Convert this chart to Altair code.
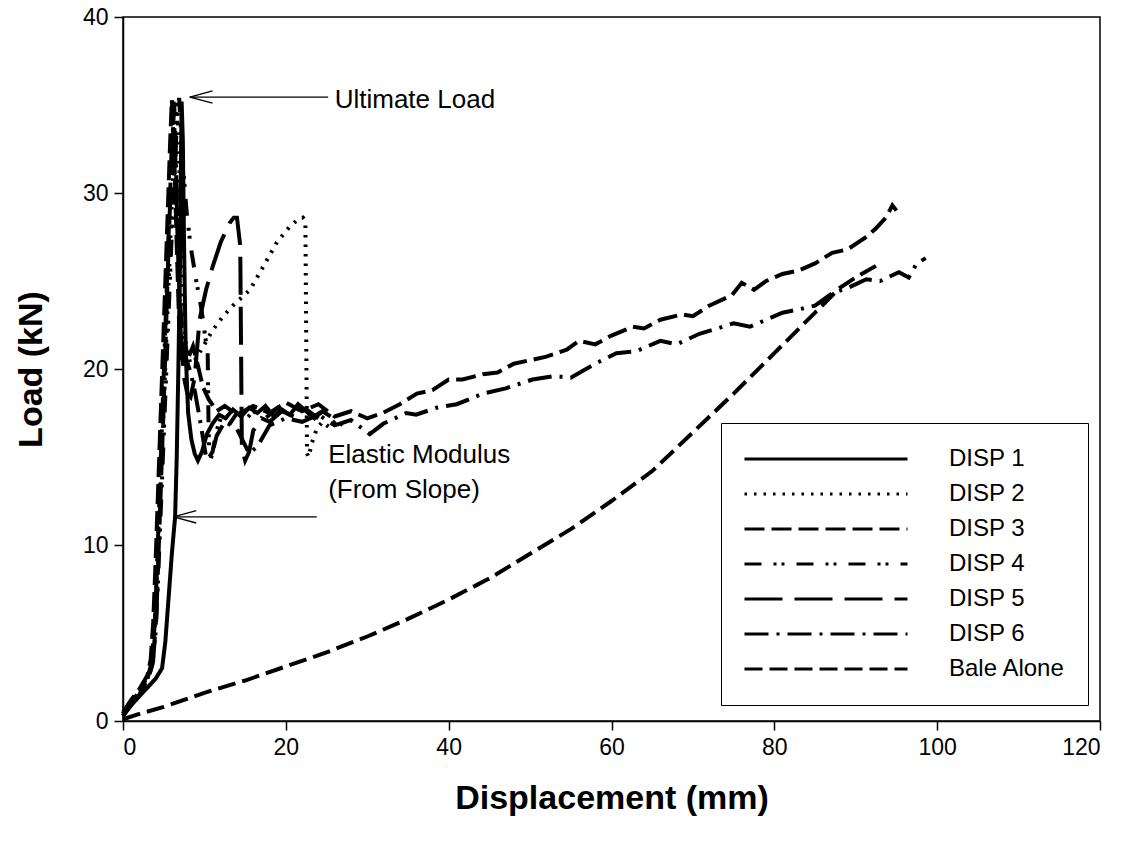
import altair as alt
import pandas as pd

# ---------------- data ----------------
series_names = ["DISP 1", "DISP 2", "DISP 3", "DISP 4", "DISP 5", "DISP 6", "Bale Alone"]

disp1_x = [0, 1, 2, 3, 4, 4.8, 5.2, 5.6, 6.0, 6.4, 6.6, 6.8, 7.0, 7.1, 7.2, 7.35, 7.5, 7.7, 8.0, 8.4,
           8.8, 9.2, 9.7, 10.3, 11.0, 11.8, 12.6, 13.5, 14.5, 15.5, 16.5, 17.5, 18.5, 19.5, 20.5, 21.5,
           22.5, 23.5, 24.5, 25.5]
disp1_y = [0.3, 0.9, 1.4, 1.9, 2.4, 3.0, 4.5, 7.0, 9.5, 11.6, 15, 20, 26, 31, 35.2, 33, 27, 21, 17.5, 16,
           15.2, 14.8, 15.3, 16.3, 16.9, 17.4, 17.2, 17.7, 17.3, 17.8, 17.5, 17.9, 17.3, 17.7, 17.4, 18.0,
           17.6, 17.2, 17.6, 17.3]

disp2_x = [0, 1, 2, 3, 3.5, 3.9, 4.2, 4.5, 4.8, 5.1, 5.4, 5.7, 6.0, 6.3, 6.6, 6.8, 7.1, 7.4, 7.8, 8.3,
           9.0, 10.0, 11.0, 12.3, 13.5, 15.6, 17.2, 18.9, 20.5, 21.5, 22.1, 22.4, 22.5, 22.6, 22.8, 23.2,
           23.8, 24.5, 25.3, 26.2, 27.0]
disp2_y = [0.4, 1.1, 1.7, 2.5, 3.3, 5.5, 8.5, 12, 15.5, 19, 22.5, 26, 29.5, 32.5, 35.3, 33.5, 28, 23.5, 21, 20.3,
           20.6, 21.4, 22.2, 23.0, 23.6, 24.5, 25.8, 27.2, 28.1, 28.5, 28.6, 28.4, 22, 15.2, 15.0, 15.8,
           16.6, 17.0, 16.7, 17.1, 16.8]

disp3_x = [0, 1, 2, 3, 3.4, 3.7, 4.0, 4.3, 4.6, 4.9, 5.2, 5.5, 5.8, 6.0, 6.3, 6.6, 6.9, 7.2, 7.6, 8.0,
           8.6, 9.2, 9.8, 10.5, 11.5, 12.5, 14, 16, 18, 20, 22, 24, 26, 28, 30, 31.9, 34, 36.1, 38, 40,
           41.7, 44.2, 46, 48, 50, 52, 54.5, 56, 58, 60, 62.6, 64, 66, 68.7, 70, 72, 74.8, 76, 77.5, 79,
           81, 83, 85, 87.1, 89, 91.3, 92.5, 93.7, 94.5, 95]
disp3_y = [0.5, 1.2, 1.8, 2.6, 3.5, 5.5, 9, 13, 17, 21, 25, 29, 33, 35.3, 32, 27, 22.5, 20.5, 21.5, 20.6,
           21.3, 20.2, 19.0, 18.3, 17.6, 17.9, 17.4, 17.9, 17.5, 18.1, 17.6, 18.0, 17.3, 17.6, 17.2, 17.5,
           18.0, 18.6, 18.8, 19.4, 19.4, 19.7, 19.8, 20.3, 20.5, 20.7, 21.1, 21.6, 21.4, 21.9, 22.4, 22.3,
           22.8, 23.1, 23.0, 23.6, 24.2, 24.9, 24.5, 25.0, 25.4, 25.6, 26.0, 26.6, 26.8, 27.5, 28.0, 28.6,
           29.3, 29.0]

disp4_x = [0, 1, 2, 3, 3.6, 4.0, 4.3, 4.6, 4.9, 5.2, 5.5, 5.8, 6.1, 6.4, 6.7, 6.9, 7.3, 7.8, 8.3, 9.0,
           9.6, 10.2, 10.4, 10.5, 10.6, 11.0, 11.5, 12, 13, 14, 15, 16, 17.5, 19, 20.5, 22, 23.5, 24.5]
disp4_y = [0.3, 1.0, 1.6, 2.3, 3.2, 5, 8, 11.5, 15, 18.5, 22, 25.5, 29, 32, 34.6, 35.4, 32, 29, 27, 25,
           23.5, 21.5, 21, 17, 15, 15.3, 16.5, 17.2, 16.8, 17.5, 17.1, 17.6, 17.2, 17.8, 17.4, 17.9, 17.3, 17.6]

disp5_x = [0, 1, 2, 3, 3.7, 4.1, 4.4, 4.7, 5.0, 5.3, 5.6, 5.9, 6.2, 6.5, 6.8, 7.1, 7.5, 7.9, 8.3, 8.8,
           9.4, 10.2, 11, 12, 13.1, 13.6, 14.0, 14.4, 14.6, 15.0, 15.5, 16, 17, 18, 19.5, 21, 22.5, 24]
disp5_y = [0.3, 0.9, 1.5, 2.2, 3.4, 6, 10, 14, 18, 22.5, 27, 31, 35.2, 31, 26, 22, 19.5, 18.6, 18.4, 19.5,
           22.8, 24.5, 25.8, 27.2, 28.3, 28.6, 28.6, 27, 15.5, 14.8, 15.3, 16.5, 17.2, 17.0, 17.6, 17.3, 17.7, 17.2]

disp6_x = [0, 1, 2, 3, 3.5, 3.9, 4.2, 4.5, 4.8, 5.1, 5.4, 5.7, 6.0, 6.3, 6.6, 6.9, 7.3, 7.8, 8.3, 8.8,
           9.5, 10.2, 10.8, 11.5, 12.5, 14, 15.5, 16.5, 18, 20, 22, 24, 26, 28, 30.3, 32, 34.8, 36, 38.5,
           41, 44.2, 47, 50.3, 53, 55, 58, 60.6, 63, 66, 68, 70.8, 73, 75, 77, 79, 81, 83.1, 85, 87.1, 89,
           91.3, 93, 95.3, 96.5, 97.5, 98.6]
disp6_y = [0.4, 1.0, 1.7, 2.4, 3.3, 5.5, 9, 13, 17, 21, 25, 29, 32.5, 35.0, 30, 25, 21.5, 20.5, 19.8, 18.8,
           17.0, 15.0, 14.9, 16.2, 17.0, 16.6, 15.2, 15.6, 16.8, 17.2, 17.0, 17.4, 16.8, 17.1, 16.3, 16.9,
           17.5, 17.4, 17.8, 18.0, 18.6, 18.9, 19.4, 19.6, 19.5, 20.3, 20.9, 21.0, 21.6, 21.4, 22.0, 22.3,
           22.6, 22.4, 22.8, 23.2, 23.4, 23.6, 24.3, 24.6, 25.1, 25.0, 25.5, 25.2, 26.0, 26.3]

bale_x = [0, 2, 5, 10, 15, 20, 25, 30, 35, 40, 45, 50, 55, 60, 65, 70, 75, 80, 85, 88, 90, 93]
bale_y = [0.1, 0.4, 0.8, 1.6, 2.3, 3.1, 3.9, 4.8, 5.8, 6.9, 8.1, 9.5, 10.9, 12.5, 14.2, 16.4, 18.6, 20.9,
          23.2, 24.6, 25.2, 26.0]

dash_patterns = [[1, 0], [2.5, 7], [20, 7], [17, 12, 3, 5, 3, 12], [38, 12], [24, 8, 3, 8], [18, 7]]

x_ticks = [0, 20, 40, 60, 80, 100, 120]
y_ticks = [0, 10, 20, 30, 40]

# annotation arrows (shaft + open head) and labels
arrow_x = [8.2, 8.2, 8.2, 6.2, 6.2, 6.2]
arrow_y = [35.45, 35.45, 35.45, 11.6, 11.6, 11.6]
arrow_x2 = [25.2, 11.0, 11.0, 23.8, 9.0, 9.0]
arrow_y2 = [35.45, 35.8, 35.1, 11.6, 11.95, 11.25]

note_text = ["Ultimate Load", "Elastic Modulus", "(From Slope)"]
note_x = [26.0, 25.2, 25.2]
note_y = [35.3, 15.1, 13.1]

# ---------------- build tables ----------------
all_x = [disp1_x, disp2_x, disp3_x, disp4_x, disp5_x, disp6_x, bale_x]
all_y = [disp1_y, disp2_y, disp3_y, disp4_y, disp5_y, disp6_y, bale_y]
rows = []
for name, xs, ys in zip(series_names, all_x, all_y):
    for i, (xv, yv) in enumerate(zip(xs, ys)):
        rows.append({"series": name, "x": xv, "y": yv, "i": i})
df = pd.DataFrame(rows)

arrows = pd.DataFrame({"x": arrow_x, "y": arrow_y, "x2": arrow_x2, "y2": arrow_y2})
notes = pd.DataFrame({"t": note_text, "x": note_x, "y": note_y})

FONT = "Liberation Sans"
xscale = alt.Scale(domain=[0, 120], nice=False, zero=True)
yscale = alt.Scale(domain=[0, 40], nice=False, zero=True)

lines = alt.Chart(df).mark_line(strokeWidth=4, color="black", strokeCap="butt").encode(
    x=alt.X("x:Q", scale=xscale,
            axis=alt.Axis(values=x_ticks, title="Displacement (mm)", titlePadding=22)),
    y=alt.Y("y:Q", scale=yscale,
            axis=alt.Axis(values=y_ticks, title="Load (kN)", titlePadding=34)),
    strokeDash=alt.StrokeDash(
        "series:N",
        scale=alt.Scale(domain=series_names, range=dash_patterns),
        legend=alt.Legend(
            title=None, orient="none", legendX=598, legendY=406,
            symbolType="stroke", symbolSize=26569, symbolStrokeWidth=3,
            symbolStrokeColor="black", clipHeight=28, rowPadding=7,
            labelFontSize=24, labelFont=FONT, labelColor="black", labelOffset=40,
            labelLimit=300, padding=22, strokeColor="black", fillColor="white",
        ),
    ),
    order=alt.Order("i:Q"),
)

arrow_layer = alt.Chart(arrows).mark_rule(color="black", strokeWidth=1.3).encode(
    x=alt.X("x:Q", scale=xscale), y=alt.Y("y:Q", scale=yscale),
    x2="x2:Q", y2="y2:Q",
)

note_layer = alt.Chart(notes).mark_text(
    align="left", baseline="middle", fontSize=26, font=FONT, color="black"
).encode(
    x=alt.X("x:Q", scale=xscale), y=alt.Y("y:Q", scale=yscale), text="t:N"
)

chart = alt.layer(lines, arrow_layer, note_layer).properties(
    width=977, height=704,
    autosize=alt.AutoSizeParams(type="none"),
    padding={"left": 123, "top": 17, "right": 30, "bottom": 121},
    background="white",
).configure_view(
    stroke="black", strokeWidth=1.5
).configure_axis(
    grid=False, domainColor="black", domainWidth=1.5, tickColor="black", tickWidth=1.5,
    tickSize=9, labelFontSize=23, labelFont=FONT, labelColor="black", labelPadding=6,
    titleFont=FONT, titleFontSize=34, titleFontWeight="bold", titleColor="black",
)

chart.save("out.html", embed_options={"renderer": "svg", "actions": False})
